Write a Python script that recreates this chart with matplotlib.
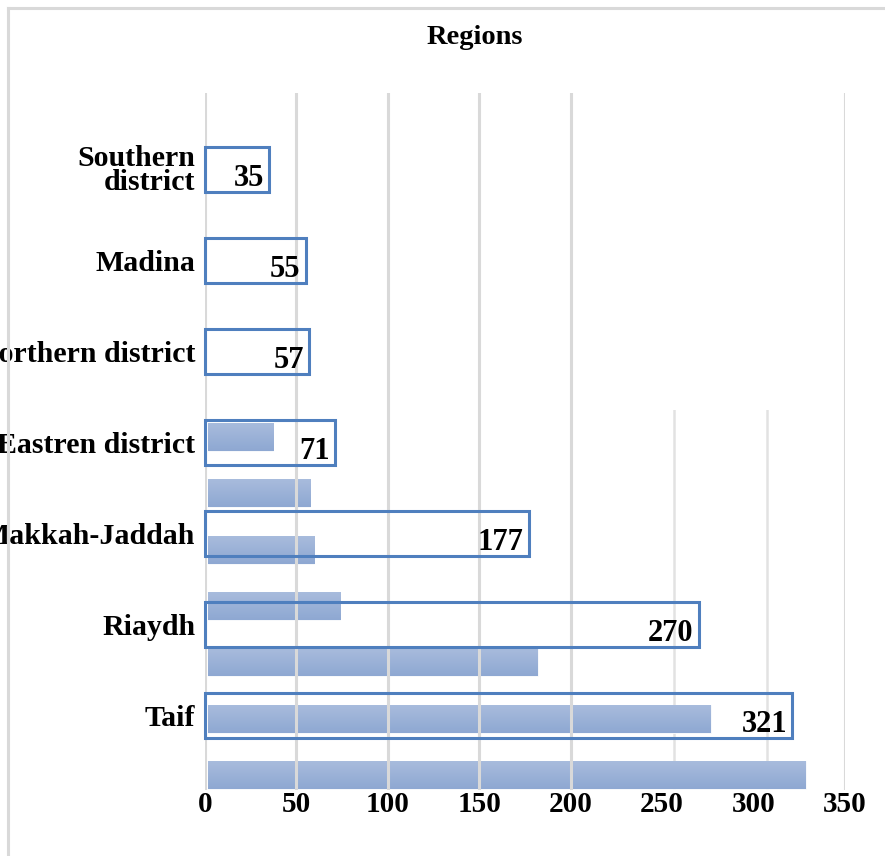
import matplotlib
matplotlib.use("Agg")
import matplotlib.pyplot as plt
import numpy as np
from matplotlib.lines import Line2D
from matplotlib.colors import LinearSegmentedColormap
from matplotlib.transforms import ScaledTranslation

# ---- data ----
categories = ["Taif", "Riaydh", "Makkah-Jaddah", "Eastren district",
              "Northern district", "Madina", "Southern\ndistrict"]
values = [321, 270, 177, 71, 57, 55, 35]
value_labels = ["321", "270", "177", "71", "57", "55", "35"]
x_ticks = [0, 50, 100, 150, 200, 250, 300, 350]
x_tick_labels = ["0", "50", "100", "150", "200", "250", "300", "350"]
title = "Regions"

plt.rcParams['font.family'] = ['Liberation Serif', 'DejaVu Serif']
plt.rcParams['font.weight'] = 'bold'

W, H = 885, 856
fig = plt.figure(figsize=(W / 100, H / 100), dpi=100)

def px(x0, y0, x1, y1):
    # pixel box (top-left origin) -> figure fraction rect
    return [x0 / W, 1 - y1 / H, (x1 - x0) / W, (y1 - y0) / H]

pos = np.arange(len(categories))

# ---- background (shadow) chart ----
axb = fig.add_axes(px(208, 410, 860, 790), zorder=0)
axb.axis('off')
for g in [250, 300]:
    axb.axvline(g, color='#e2e2e2', lw=1.8, zorder=0)
bars = axb.barh(pos, values, height=0.5, color='#9bb0d8', edgecolor='white',
                linewidth=0.6, zorder=1)
grad = np.linspace(0, 1, 64).reshape(-1, 1)
cmap = LinearSegmentedColormap.from_list('g', ['#a9bcdd', '#8ea8d2'])
for b in bars:
    bb = b.get_bbox()
    im = axb.imshow(grad, cmap=cmap, aspect='auto', origin='upper',
                    extent=[bb.x0, bb.x1, bb.y0, bb.y1], zorder=1.5)
    im.set_clip_path(b)
axb.set_xlim(0, 350)
axb.set_ylim(-0.266, 6.48)

# ---- foreground chart ----
ax = fig.add_axes(px(205, 93, 845, 790), zorder=1)
ax.set_facecolor('none')
ax.set_xlim(0, 350)
ax.set_ylim(-0.82, 6.84)
for s in ax.spines.values():
    s.set_visible(False)
for g in [0, 50, 100, 150, 200, 350]:
    ax.axvline(g, color='#d9d9d9', lw=2.2, zorder=0)

ax.barh(pos, values, height=0.5, fill=False, edgecolor='#4f7fbe',
        linewidth=2.2, zorder=3, clip_on=False)
for p, v, lab in zip(pos, values, value_labels):
    ax.annotate(lab, xy=(v, p), xytext=(-5, -9), textcoords='offset pixels',
                ha='right', va='center', fontsize=22, fontweight='bold',
                color='black', zorder=4)

ax.set_yticks(pos)
ax.set_yticklabels(categories, fontsize=21.5, fontweight='bold',
                   linespacing=0.85)
for t in ax.get_yticklabels():
    dy = 3 if "\n" in t.get_text() else -4
    t.set_transform(t.get_transform() +
                    ScaledTranslation(0, dy / 100, fig.dpi_scale_trans))
ax.set_xticks(x_ticks)
ax.set_xticklabels(x_tick_labels, fontsize=21, fontweight='bold')
ax.tick_params(axis='y', length=0, pad=7)
ax.tick_params(axis='x', length=0, pad=1)

fig.text(475 / W, 1 - 37 / H, title, ha='center', va='center',
         fontsize=20.5, fontweight='bold')

# outer chart-area border (left and top only visible)
fig.add_artist(Line2D([8 / W, 8 / W], [0, 1 - 8 / H], color='#d9d9d9',
                      lw=2.2, transform=fig.transFigure))
fig.add_artist(Line2D([8 / W, 1], [1 - 8 / H, 1 - 8 / H], color='#d9d9d9',
                      lw=2.2, transform=fig.transFigure))

fig.savefig("out.png", dpi=100)
